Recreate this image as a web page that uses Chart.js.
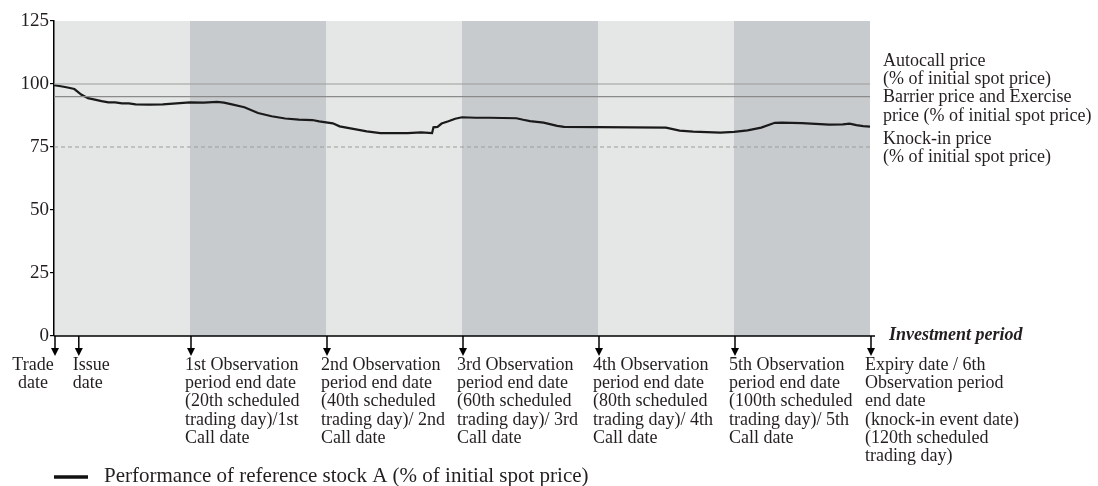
<!DOCTYPE html>
<html>
<head>
<meta charset="utf-8">
<title>Reference stock performance</title>
<script src="https://cdn.jsdelivr.net/npm/chart.js"></script>
<style>
  html, body { margin: 0; padding: 0; background: #fff; }
  canvas { display: block; }
</style>
</head>
<body>
<canvas id="perfChart" width="1098" height="486"></canvas>
<script>
  // trading days and performance of reference stock A (% of initial spot)
  const days = [0, 1, 2, 3, 4, 5, 6, 7, 8, 9, 10, 11, 12, 14, 16, 18, 20, 22, 24, 25, 26, 28, 30, 32, 34, 36, 38, 39, 40, 41,
    42, 44, 46, 48, 50, 52, 54, 55.6, 55.8, 56.4, 57, 58, 59, 60, 62, 64, 66, 68, 69, 70, 72, 74, 75, 80, 85, 90,
    92, 94, 96, 98, 100, 102, 104, 106, 107, 110, 112, 114, 116, 117, 118, 119, 120];
  const stockValues = [99.5, 99.1, 98.6, 98.0, 95.8, 94.4, 93.8, 93.2, 92.7, 92.7, 92.3, 92.3, 91.9, 91.8, 91.9, 92.3, 92.7, 92.6, 92.9, 92.6, 92.0, 90.8, 88.5, 87.2, 86.3, 85.9, 85.7, 85.2, 84.8, 84.4,
    83.2, 82.2, 81.2, 80.5, 80.5, 80.5, 80.8, 80.5, 82.8, 83.0, 84.3, 85.2, 86.2, 86.8, 86.6, 86.6, 86.5, 86.4, 85.8, 85.3, 84.7, 83.4, 83.0, 82.9, 82.8, 82.7,
    81.5, 81.1, 80.9, 80.7, 81.0, 81.6, 82.7, 84.6, 84.7, 84.5, 84.2, 83.9, 84.0, 84.3, 83.7, 83.3, 83.1];

  const autocallLevel = 100;
  const barrierLevel = 95;
  const knockInLevel = 75;
  const yTicks = [0, 25, 50, 75, 100, 125];

  // observation periods drawn in dark grey
  const darkBands = [[20, 40], [60, 80], [100, 120]];

  const arrowDays = [0, 3.5, 20, 40, 60, 80, 100, 120];
  const arrowLabels = [
    ['Trade', 'date'],
    ['Issue', 'date'],
    ['1st Observation', 'period end date', '(20th scheduled', 'trading day)/1st', 'Call date'],
    ['2nd Observation', 'period end date', '(40th scheduled', 'trading day)/ 2nd', 'Call date'],
    ['3rd Observation', 'period end date', '(60th scheduled', 'trading day)/ 3rd', 'Call date'],
    ['4th Observation', 'period end date', '(80th scheduled', 'trading day)/ 4th', 'Call date'],
    ['5th Observation', 'period end date', '(100th scheduled', 'trading day)/ 5th', 'Call date'],
    ['Expiry date / 6th', 'Observation period', 'end date', '(knock-in event date)', '(120th scheduled', 'trading day)']
  ];
  const autocallText = ['Autocall price', '(% of initial spot price)'];
  const barrierText = ['Barrier price and Exercise', 'price (% of initial spot price)'];
  const knockInText = ['Knock-in price', '(% of initial spot price)'];
  const axisTitle = 'Investment period';
  const legendText = 'Performance of reference stock A (% of initial spot price)';

  const serif = '"Liberation Serif", "Times New Roman", serif';
  const ink = '#231f20';

  const levelLine = (level) => [{ x: 0, y: level }, { x: 120, y: level }];

  const backdrop = {
    id: 'backdrop',
    beforeDraw(chart) {
      const { ctx, chartArea: a, scales: { x } } = chart;
      ctx.save();
      ctx.fillStyle = '#e5e6e6';
      ctx.fillRect(a.left, a.top, a.right - a.left, a.bottom - a.top);
      ctx.fillStyle = '#c8cbce';
      darkBands.forEach(([s, e]) => {
        const x0 = x.getPixelForValue(s), x1 = x.getPixelForValue(e);
        ctx.fillRect(x0, a.top, x1 - x0, a.bottom - a.top);
      });
      ctx.restore();
    },
    afterDraw(chart) {
      const { ctx, chartArea: a, scales: { x, y } } = chart;
      ctx.save();
      ctx.strokeStyle = '#000';
      ctx.fillStyle = '#000';
      ctx.lineWidth = 1.5;

      // horizontal axis
      ctx.beginPath();
      ctx.moveTo(a.left, a.bottom);
      ctx.lineTo(a.right + 5, a.bottom);
      ctx.stroke();

      // arrows + labels
      ctx.font = '18px ' + serif;
      ctx.textBaseline = 'middle';
      arrowDays.forEach((d, i) => {
        const px = x.getPixelForValue(d) + 1;
        ctx.beginPath();
        ctx.moveTo(px, a.bottom);
        ctx.lineTo(px, a.bottom + 13);
        ctx.stroke();
        ctx.beginPath();
        ctx.moveTo(px - 4, a.bottom + 12);
        ctx.lineTo(px + 4, a.bottom + 12);
        ctx.lineTo(px, a.bottom + 20);
        ctx.closePath();
        ctx.fill();

        ctx.fillStyle = ink;
        let tx = px - 6;
        ctx.textAlign = 'left';
        if (i === 0) { tx = px - 22; ctx.textAlign = 'center'; }
        arrowLabels[i].forEach((line, j) => ctx.fillText(line, tx, a.bottom + 29 + j * 18.3));
        ctx.fillStyle = '#000';
      });

      // level captions on the right
      ctx.fillStyle = ink;
      ctx.textAlign = 'left';
      const rx = a.right + 13;
      autocallText.forEach((t, j) => ctx.fillText(t, rx, y.getPixelForValue(autocallLevel) - 23 + j * 18));
      barrierText.forEach((t, j) => ctx.fillText(t, rx, y.getPixelForValue(barrierLevel) + 1 + j * 19));
      knockInText.forEach((t, j) => ctx.fillText(t, rx, y.getPixelForValue(knockInLevel) - 8 + j * 18));

      ctx.font = 'italic bold 18px ' + serif;
      ctx.fillText(axisTitle, a.right + 19, a.bottom - 1);

      // legend
      ctx.strokeStyle = '#111';
      ctx.lineWidth = 3.5;
      ctx.beginPath();
      ctx.moveTo(a.left, 477);
      ctx.lineTo(a.left + 34, 477);
      ctx.stroke();
      ctx.font = '21px ' + serif;
      ctx.fillText(legendText, a.left + 50, 476);
      ctx.restore();
    }
  };

  new Chart(document.getElementById('perfChart'), {
    type: 'line',
    data: {
      datasets: [
        { data: levelLine(autocallLevel), borderColor: '#9c9c9c', borderWidth: 1.2, pointRadius: 0 },
        { data: levelLine(barrierLevel), borderColor: '#8a8a8a', borderWidth: 1.2, pointRadius: 0 },
        { data: levelLine(knockInLevel), borderColor: '#9c9c9c', borderWidth: 1.2, borderDash: [4, 3], pointRadius: 0 },
        {
          data: days.map((d, i) => ({ x: d, y: stockValues[i] })),
          borderColor: '#1a1a1a', borderWidth: 2.2, pointRadius: 0, tension: 0
        }
      ]
    },
    options: {
      responsive: false,
      animation: false,
      layout: { padding: { left: 0, top: 21, right: 228, bottom: 150 } },
      plugins: { legend: { display: false }, tooltip: { enabled: false } },
      scales: {
        x: { type: 'linear', min: 0, max: 120, display: false },
        y: {
          min: 0, max: 125,
          afterFit: s => { s.width = 54; },
          afterBuildTicks: s => { s.ticks = yTicks.map(v => ({ value: v })); },
          grid: { drawOnChartArea: false, drawTicks: true, tickLength: 4, color: '#000', lineWidth: 1.2 },
          border: { display: true, color: '#000', width: 1.5 },
          ticks: { padding: 1, color: ink, font: { family: serif, size: 19 } }
        }
      }
    },
    plugins: [backdrop]
  });
</script>
</body>
</html>
